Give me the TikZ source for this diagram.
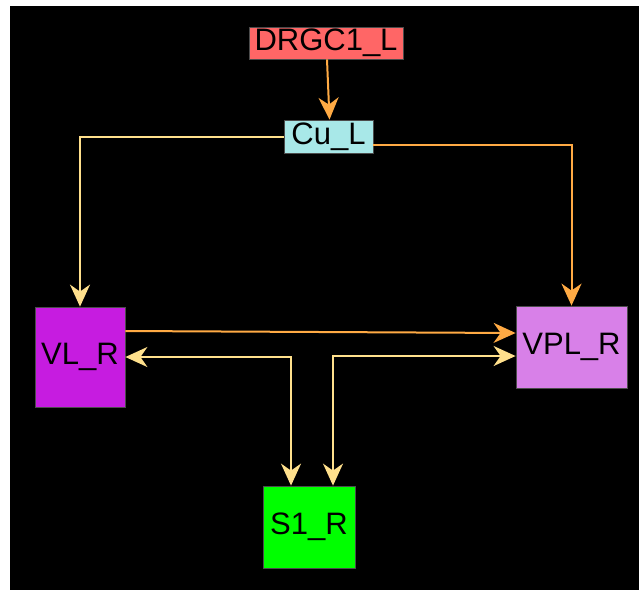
\documentclass[tikz,border=0pt]{standalone}
\usepackage{fontspec}
\setmainfont{Liberation Sans}
\usetikzlibrary{arrows.meta}
\definecolor{cRed}{HTML}{FF6666}
\definecolor{cCyan}{HTML}{A8E8E8}
\definecolor{cPurple}{HTML}{C61CE0}
\definecolor{cViolet}{HTML}{D880E8}
\definecolor{cGreen}{HTML}{00FF00}
\definecolor{cOrange}{HTML}{FFAA44}
\definecolor{cYellow}{HTML}{FFE08C}
\tikzset{
  box/.style={draw=black!70, line width=0.8pt, inner sep=0pt, font=\fontsize{31}{33}\selectfont, text=black},
  tip/.style={-{Stealth[length=22pt,width=20pt,inset=7pt]}},
  btip/.style={{Stealth[length=22pt,width=20pt,inset=7pt]}-{Stealth[length=22pt,width=20pt,inset=7pt]}},
  oedge/.style={draw=cOrange, line width=2pt},
  yedge/.style={draw=cYellow, line width=2pt},
}
\begin{document}
\begin{tikzpicture}[x=1pt,y=-1pt]
\useasboundingbox (0,0) rectangle (639,590);
\fill[white] (0,0) rectangle (639,590);
\fill[black] (10,6) rectangle (639,590);
\node[box, fill=cRed, minimum width=154pt, minimum height=32pt] (drgc) at (326,43) {DRGC1\_L};
\node[box, fill=cCyan, minimum width=89pt, minimum height=33pt] (cu) at (328.5,136.5) {Cu\_L};
\node[box, fill=cPurple, minimum width=90pt, minimum height=100pt] (vl) at (80,357) {VL\_R};
\node[box, fill=cViolet, minimum width=111pt, minimum height=82pt] (vpl) at (571.5,347) {VPL\_R};
\node[box, fill=cGreen, minimum width=92pt, minimum height=82pt] (s1) at (309,527) {S1\_R};
\draw[oedge, tip] ([xshift=1pt]drgc.south) -- ([xshift=1pt]cu.north);
\draw[yedge, tip] (cu.west) -| (vl.north);
\draw[oedge, tip] ([yshift=-8.5pt]cu.east) -| (vpl.north);
\draw[oedge, tip] ([yshift=26pt]vl.east) -- ([yshift=14pt]vpl.west);
\draw[yedge, btip] (vl.east) -| ([xshift=-18pt]s1.north);
\draw[yedge, btip] ([xshift=24pt]s1.north) |- ([yshift=-9pt]vpl.west);
\end{tikzpicture}
\end{document}
